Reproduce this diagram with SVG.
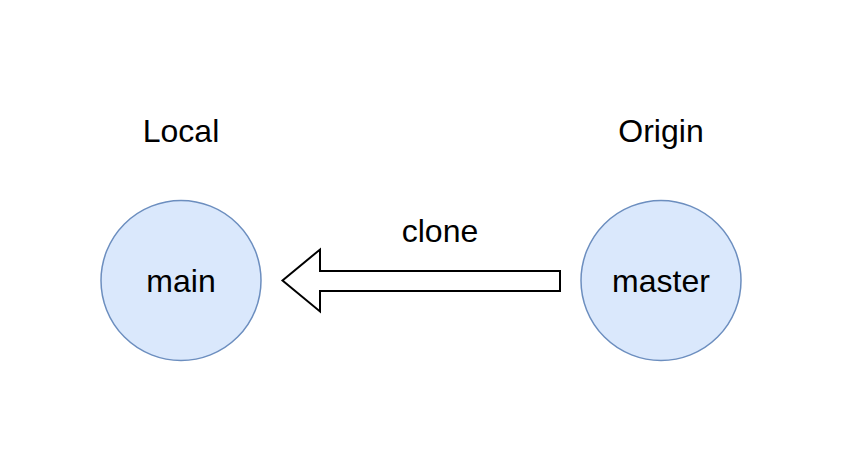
<svg xmlns="http://www.w3.org/2000/svg" width="842" height="462" viewBox="0 0 842 462">
<style>
.node{fill:#dae8fc;stroke:#6c8ebf;stroke-width:1.5}
text{font-family:"Liberation Sans",Arial,sans-serif;font-size:32px;fill:#000;text-anchor:middle}
</style>
<rect width="842" height="462" fill="#fff"/>
<g id="label-local"><text x="181" y="142">Local</text></g>
<g id="label-origin"><text x="661" y="142">Origin</text></g>
<g id="node-main"><circle class="node" cx="181" cy="280.5" r="80"/><text x="181" y="291.5">main</text></g>
<g id="node-master"><circle class="node" cx="661" cy="280.5" r="80"/><text x="661" y="291.5">master</text></g>
<g id="connectors">
<path d="M560 271 L320 271 L320 249.5 L282.5 280.5 L320 311.5 L320 291 L560 291 Z" fill="#fff" stroke="#000" stroke-width="2"/>
<text x="440" y="242">clone</text>
</g>
</svg>
